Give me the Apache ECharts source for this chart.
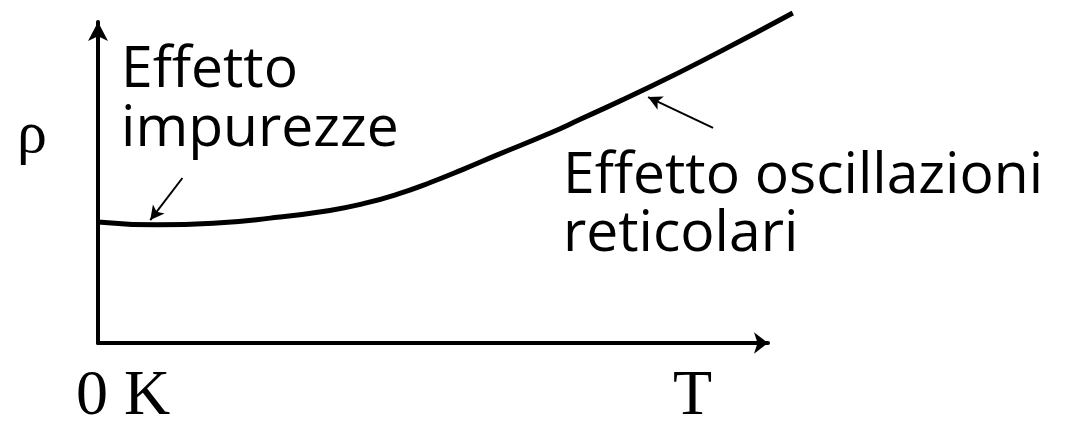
<!DOCTYPE html>
<html>
<head>
<meta charset="utf-8">
<script src="https://cdn.jsdelivr.net/npm/echarts@6/dist/echarts.min.js"></script>
<style>
  html, body { margin: 0; padding: 0; background: #fff; }
  #chart { width: 1066px; height: 422px; }
</style>
</head>
<body>
<div id="chart"></div>
<script>
// temperature (arbitrary units, 0 = 0 K) and resistivity (arbitrary units)
const temps = [0, 8.8, 17.2, 25.7, 34.6, 39.6, 44.6, 49.6, 54.5, 59.6, 67.5, 71.9, 82.4, 92.4, 103.7]
const rho = [37.7, 36.8, 37.3, 38.9, 41.3, 43.4, 46.3, 50.0, 54.1, 58.6, 65.4, 69.6, 79.8, 90.3, 102.8]

// annotation arrows: [from, to] in data units
const impurityArrow = [[12.6, 51.4], [7.8, 38.3]]
const phononArrow = [[91.8, 67.0], [82.1, 76.6]]

const axisLabels = ['0 K', 'T']
const yName = 'ρ'
const impurityText = 'Effetto\nimpurezze'
const phononText = 'Effetto oscillazioni\nreticolari'

const serif = '"Liberation Serif", "DejaVu Serif", serif'
const sans = '"Open Sans", "DejaVu Sans", sans-serif'

// px per unit, so the plotting grid (which the curve overshoots) matches the drawn axes
const pxX = 6.7
const pxY = 3.21
const axisMax = 100
const plotMax = 104

const chart = echarts.init(document.getElementById('chart'))

const axisCommon = {
  type: 'value',
  min: 0,
  axisTick: {show: false},
  axisLabel: {show: false},
  splitLine: {show: false}
}

chart.setOption({
  animation: false,
  grid: [
    // drawn axes with arrows
    {left: 98, bottom: 79, width: axisMax * pxX, height: axisMax * pxY, outerBoundsMode: 'none'},
    // plotting area, a bit larger so the curve runs past the arrow tips
    {left: 98, bottom: 79, width: plotMax * pxX, height: plotMax * pxY, outerBoundsMode: 'none'}
  ],
  xAxis: [
    {
      ...axisCommon,
      gridIndex: 0,
      max: axisMax,
      axisLine: {
        show: true,
        symbol: ['none', 'arrow'],
        symbolSize: [16, 14],
        lineStyle: {color: '#000', width: 4}
      }
    },
    {...axisCommon, gridIndex: 1, max: plotMax, axisLine: {show: false}}
  ],
  yAxis: [
    {
      ...axisCommon,
      gridIndex: 0,
      max: axisMax,
      axisLine: {
        show: true,
        symbol: ['none', 'arrow'],
        symbolSize: [15, 19],
        lineStyle: {color: '#000', width: 4}
      }
    },
    {...axisCommon, gridIndex: 1, max: plotMax, axisLine: {show: false}}
  ],
  series: [
    {
      type: 'line',
      xAxisIndex: 1,
      yAxisIndex: 1,
      data: temps.map((t, i) => [t, rho[i]]),
      smooth: 0.5,
      showSymbol: false,
      silent: true,
      lineStyle: {color: '#000', width: 5},
      markLine: {
        silent: true,
        symbol: ['none', 'arrow'],
        symbolSize: [11, 14],
        label: {show: false},
        lineStyle: {color: '#000', width: 2, type: 'solid'},
        emphasis: {disabled: true},
        data: [
          [{coord: impurityArrow[0]}, {coord: impurityArrow[1]}],
          [{coord: phononArrow[0]}, {coord: phononArrow[1]}]
        ]
      }
    }
  ],
  graphic: [
    {type: 'text', left: 17, top: 106, style: {text: yName, font: '60px ' + serif, fill: '#000'}},
    {type: 'text', left: 76, top: 365, style: {text: axisLabels[0], font: '64px ' + serif, fill: '#000'}},
    {type: 'text', left: 673, top: 365, style: {text: axisLabels[1], font: '64px ' + serif, fill: '#000'}},
    {type: 'text', left: 121, top: 41, style: {text: impurityText, font: '57px ' + sans, lineHeight: 59, fill: '#000'}},
    {type: 'text', left: 563, top: 148, style: {text: phononText, font: '57px ' + sans, lineHeight: 58, fill: '#000'}}
  ]
})
</script>
</body>
</html>
